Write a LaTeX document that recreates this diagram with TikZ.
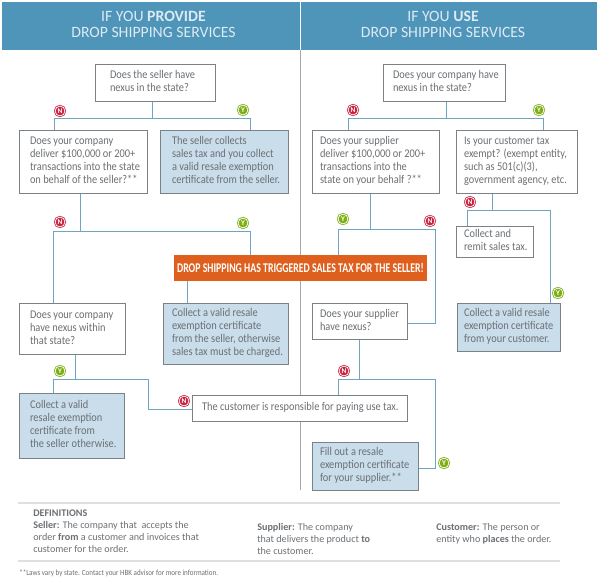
\documentclass[tikz,border=0pt]{standalone}
\usepackage{fontspec}
\setmainfont{Carlito}
\newfontfamily\narrowfont[FakeStretch=0.88]{Carlito}
\newfontfamily\bannerfont[FakeStretch=0.735]{Carlito}
\definecolor{hdr}{HTML}{4F94B9}
\definecolor{hdrtext}{HTML}{DCEAF2}
\definecolor{bluefill}{HTML}{C9DDEB}
\definecolor{edge}{HTML}{7A8288}
\definecolor{conn}{HTML}{6FA5BF}
\definecolor{body}{HTML}{6C7074}
\definecolor{orangebar}{HTML}{DF601E}
\definecolor{redicon}{HTML}{C9233F}
\definecolor{greenicon}{HTML}{7DAE14}
\tikzset{
  qbox/.style={draw=edge,line width=0.75pt,fill=white,text=body,inner sep=0pt,font=\narrowfont\fontsize{8.85}{9.75}\selectfont},
  abox/.style={qbox,fill=bluefill},
  link/.style={draw=conn,line width=0.75pt},
  divider/.style={draw=black!35,line width=0.75pt},
  rulegray/.style={draw=black!12,line width=0.9pt},
  head/.style={fill=hdr,text=hdrtext,inner sep=0pt,font=\fontsize{11.8}{12}\selectfont},
  noicon/.style={circle,fill=redicon,draw=redicon,double=white,double distance=0.55pt,line width=0.6pt,minimum size=7.4pt,inner sep=0pt,text=white,font=\fontsize{5.5}{5.5}\selectfont\bfseries},
  yesicon/.style={noicon,fill=greenicon,draw=greenicon},
  banner/.style={fill=orangebar,text=white,inner sep=0pt,font=\bannerfont\fontsize{10}{10}\selectfont\bfseries},
  deftext/.style={anchor=north west,align=left,inner sep=0pt,text=body,font=\fontsize{7.6}{8.9}\selectfont},
  foot/.style={anchor=west,inner sep=0pt,text=body,font=\narrowfont\fontsize{6.0}{7}\selectfont}
}
% name, style, x1, y1, x2, y2, text offset, text
\newcommand{\bx}[8]{\node[#2,minimum width={(#5-#3)*0.75pt},minimum height={(#6-#4)*0.75pt}] (#1) at ({(#3+#5)/2},{(#4+#6)/2}) {\makebox[\dimexpr(#5pt-#3pt)*3/4\relax][l]{\hspace*{\dimexpr#7pt*3/4\relax}\begin{tabular}{@{}l@{}}#8\end{tabular}}};}
\begin{document}
\begin{tikzpicture}[x=0.75pt,y=-0.75pt]
\useasboundingbox (0,0) rectangle (600,582);
% headers
\node[head,minimum width=223.5pt,minimum height=36pt] (hl) at (151,26) {\hspace*{3.75pt}\begin{tabular}{@{}c@{}}IF YOU \textbf{PROVIDE}\\DROP SHIPPING SERVICES\end{tabular}};
\node[head,minimum width=222pt,minimum height=36pt] (hr) at (448.5,26) {\begin{tabular}{@{}c@{}}IF YOU \textbf{USE}\\DROP SHIPPING SERVICES\end{tabular}\hspace*{8.25pt}};
\coordinate (dv) at (300,490);
\draw[divider] (dv |- hl.south) -- (dv);
% junctions
\coordinate (a1) at (152,118); \coordinate (a1l) at (54,118); \coordinate (a1r) at (250,118);
\coordinate (a2) at (80,231); \coordinate (a2l) at (53,231); \coordinate (a2r) at (250,231);
\coordinate (a3) at (187,290);
\coordinate (a4) at (75,379); \coordinate (a4l) at (53,379); \coordinate (a4r) at (148,379); \coordinate (a4b) at (148,409);
\coordinate (b1) at (446,118); \coordinate (b1l) at (348,118); \coordinate (b1r) at (543,118);
\coordinate (b2) at (370,229); \coordinate (b2l) at (338,229); \coordinate (b2r) at (435,229); \coordinate (b2b) at (435,323);
\coordinate (b3) at (492,210); \coordinate (b3l) at (467,210); \coordinate (b3r) at (550,210);
\coordinate (b4) at (359,379); \coordinate (b4l) at (338,379); \coordinate (b4r) at (435,379); \coordinate (b4b) at (435,468);
% boxes, left
\bx{A}{qbox}{95}{64}{215}{101}{15}{Does the seller have\\nexus in the state?}
\bx{B}{qbox}{19}{130}{147}{193}{11}{Does your company\\deliver \$100,000 or 200+\\transactions into the state\\on behalf of the seller?**}
\bx{C}{abox}{160}{130}{288}{193}{12}{The seller collects\\sales tax and you collect\\a valid resale exemption\\certificate from the seller.}
\bx{D}{qbox}{19}{303}{125}{354}{11}{Does your company\\have nexus within\\that state?}
\bx{E}{abox}{163}{303}{288}{364}{9}{Collect a valid resale\\exemption certificate\\from the seller, otherwise\\sales tax must be charged.}
\bx{F}{abox}{19}{393}{124}{458}{11}{Collect a valid\\resale exemption\\certificate from\\the seller otherwise.}
\bx{G}{qbox}{192}{395}{407}{421}{10}{The customer is responsible for paying use tax.}
% boxes, right
\bx{H}{qbox}{383}{64}{505}{101}{10}{Does your company have\\nexus in the state?}
\bx{I}{qbox}{312}{130}{439}{193}{8}{Does your supplier\\deliver \$100,000 or 200+\\transactions into the\\state on your behalf ?**}
\bx{J}{qbox}{456}{130}{577}{193}{8}{Is your customer tax\\exempt? (exempt entity,\\such as 501(c)(3),\\government agency, etc.}
\bx{K}{qbox}{312}{303}{407}{339}{8}{Does your supplier\\have nexus?}
\bx{L}{abox}{312}{442}{418}{490}{8}{Fill out a resale\\exemption certificate\\for your supplier.**}
\bx{M}{qbox}{456}{226}{533}{257}{8}{Collect and\\remit sales tax.}
\bx{P}{abox}{457}{303}{560}{351}{7}{Collect a valid resale\\exemption certificate\\from your customer.}
\node[banner,minimum width=189.75pt,minimum height=19.5pt] (T) at (300.5,268) {DROP SHIPPING HAS TRIGGERED SALES TAX FOR THE SELLER!};
% connectors
\draw[link] (a1 |- A.south) -- (a1);
\draw[link] (B.north -| a1l) -- (a1l) -- (a1r) -- (C.north -| a1r);
\draw[link] (a2 |- B.south) -- (a2);
\draw[link] (D.north -| a2l) -- (a2l) -- (a2r) -- (T.north -| a2r);
\draw[link] (a3 |- T.south) -- (a3 |- E.north);
\draw[link] (a4 |- D.south) -- (a4);
\draw[link] (F.north -| a4l) -- (a4l) -- (a4r) -- (a4b) -- (G.west |- a4b);
\draw[link] (b1 |- H.south) -- (b1);
\draw[link] (I.north -| b1l) -- (b1l) -- (b1r) -- (J.north -| b1r);
\draw[link] (b2 |- I.south) -- (b2);
\draw[link] (T.north -| b2l) -- (b2l) -- (b2r) -- (b2b) -- (K.east |- b2b);
\draw[link] (b3 |- J.south) -- (b3);
\draw[link] (M.north -| b3l) -- (b3l) -- (b3r) -- (P.north -| b3r);
\draw[link] (b4 |- K.south) -- (b4);
\draw[link] (G.north -| b4l) -- (b4l) -- (b4r) -- (b4b) -- (L.east |- b4b);
% icons
\node[noicon] (n1) at (60,111) {N};
\node[yesicon] (y1) at (243,110) {Y};
\node[noicon] (n2) at (60,222) {N};
\node[yesicon] (y2) at (243,223) {Y};
\node[yesicon] (y3) at (60,371) {Y};
\node[noicon] (n3) at (184,401) {N};
\node[noicon] (n4) at (353,110) {N};
\node[yesicon] (y4) at (539,110) {Y};
\node[yesicon] (y5) at (343,219) {Y};
\node[noicon] (n5) at (430,221) {N};
\node[noicon] (n6) at (470,202) {N};
\node[yesicon] (y6) at (558,293) {Y};
\node[noicon] (n7) at (344,371) {N};
\node[yesicon] (y7) at (444,463) {Y};
% definitions
\coordinate (r1a) at (18,503); \coordinate (r1b) at (560,503);
\coordinate (r2a) at (18,561); \coordinate (r2b) at (560,561);
\draw[rulegray] (r1a) -- (r1b);
\draw[rulegray] (r2a) -- (r2b);
\node[deftext] (d1) at (33,510) {\textbf{DEFINITIONS}\\\textbf{Seller:} The company that~ accepts the\\order \textbf{from} a customer and invoices that\\customer for the order.};
\node[deftext] (d2) at (257,523) {\textbf{Supplier:} The company\\that delivers the product \textbf{to}\\the customer.};
\node[deftext] (d3) at (436,523) {\textbf{Customer:} The person or\\entity who \textbf{places} the order.};
\node[foot] (fn) at (19,573) {**Laws vary by state. Contact your HBK advisor for more information.};
\end{tikzpicture}
\end{document}
